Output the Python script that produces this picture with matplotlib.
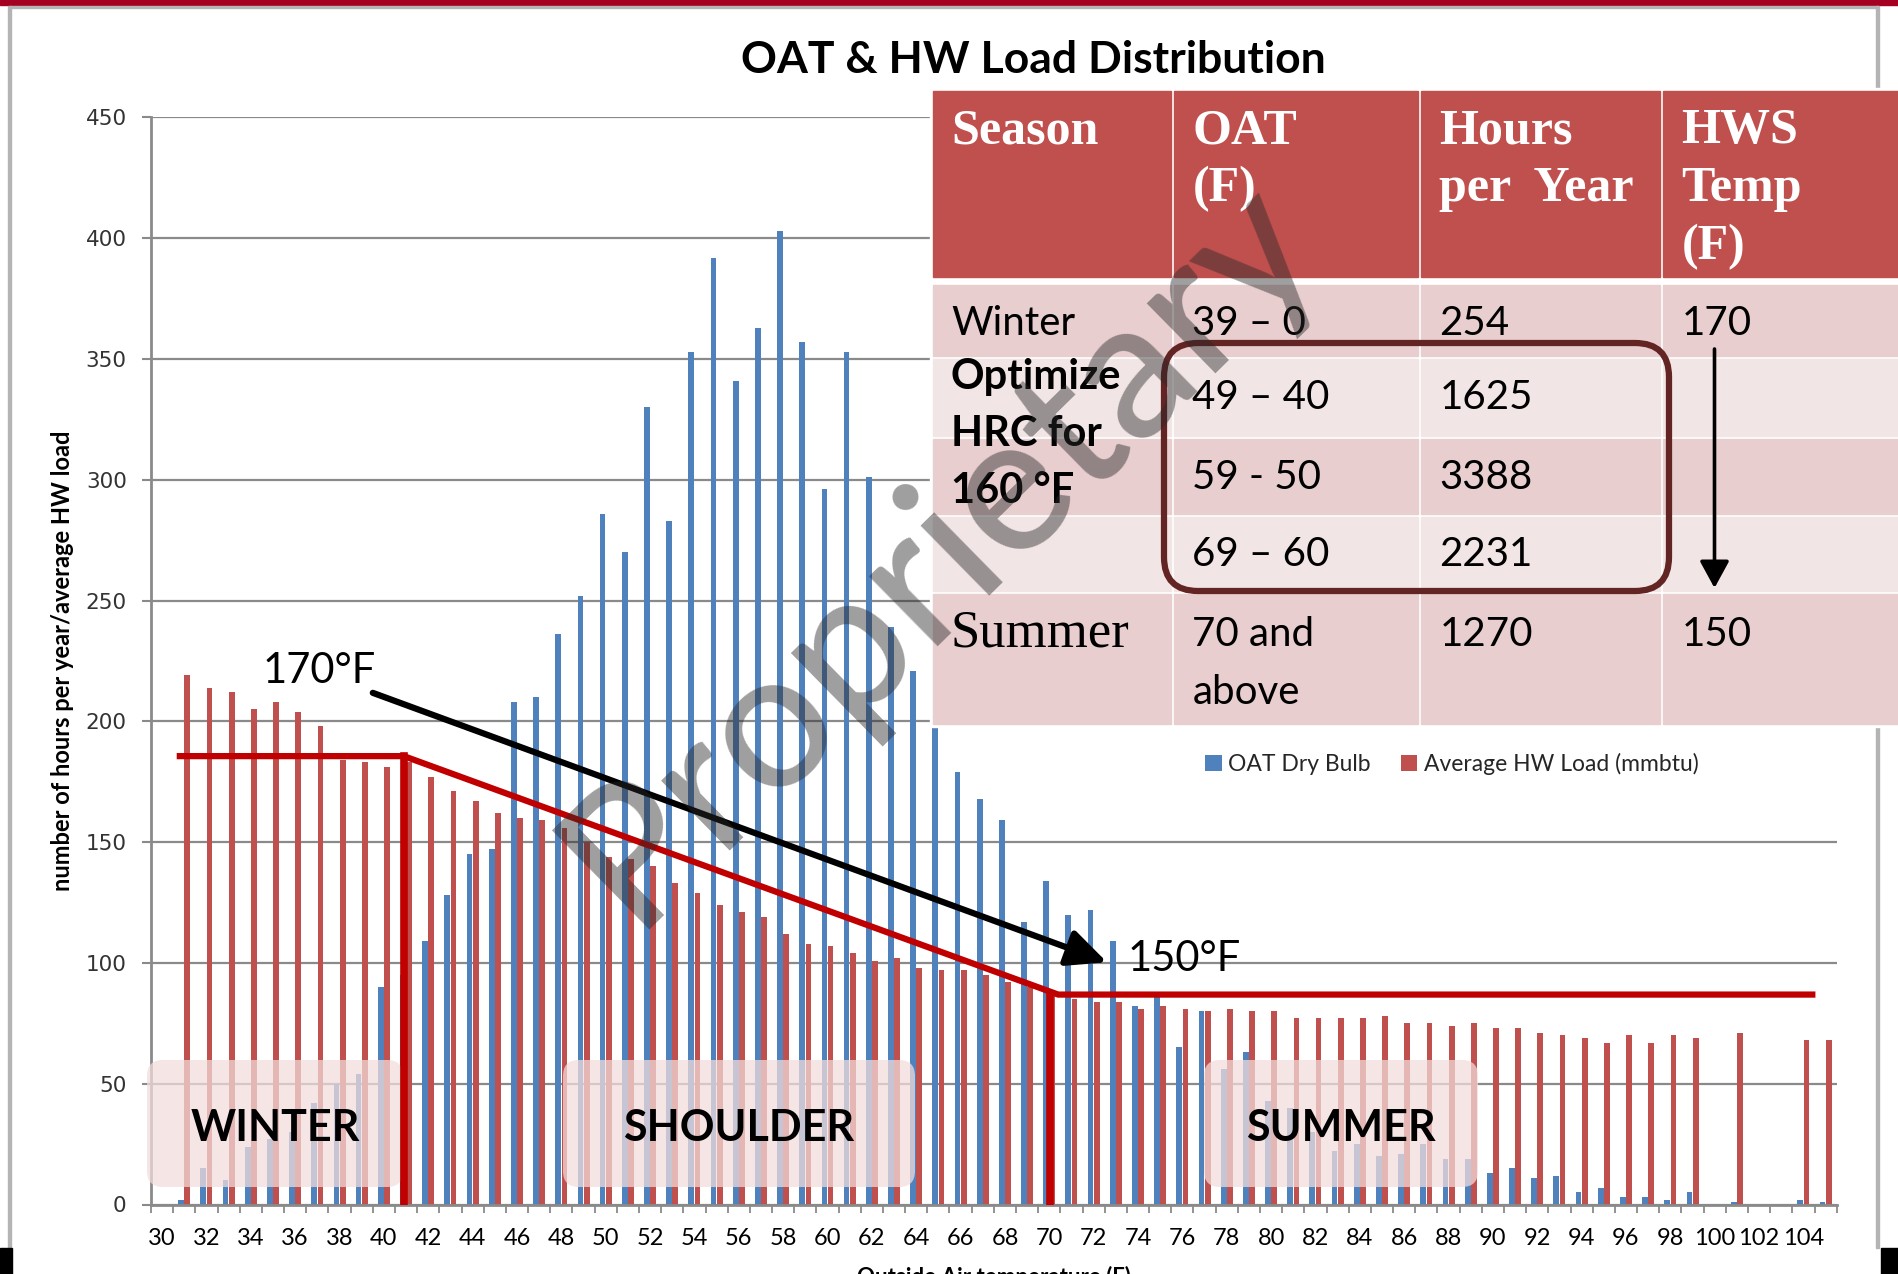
import matplotlib.pyplot as plt
import matplotlib.transforms as mtransforms
from matplotlib.patches import FancyBboxPatch, Rectangle

W, H = 1898, 1274

# outside air temperature bins (F)
temps = list(range(30, 106))
# hours per year in each bin
oat_hours = [0, 2, 15, 10, 24, 27, 30, 42, 50, 54,
             90, 95, 109, 128, 145, 147, 208, 210, 236, 252,
             286, 270, 330, 283, 353, 392, 341, 363, 403, 357,
             296, 353, 301, 239, 221, 198, 179, 168, 159, 117,
             134, 120, 122, 109, 82, 88, 65, 80, 56, 63,
             43, 40, 30, 22, 25, 20, 21, 25, 19, 19,
             13, 15, 11, 12, 5, 7, 3, 3, 2, 5,
             0, 1, 0, 0, 2, 1]
# average hot water load (mmbtu)
hw_load = [0, 219, 214, 212, 205, 208, 204, 198, 184, 183,
           181, 183, 177, 171, 167, 162, 160, 159, 156, 150,
           144, 143, 140, 133, 129, 124, 121, 119, 112, 108,
           107, 104, 101, 102, 98, 97, 97, 95, 92, 90,
           87, 85, 84, 84, 81, 82, 81, 80, 81, 80,
           80, 77, 77, 77, 77, 78, 75, 75, 74, 75,
           73, 73, 71, 70, 69, 67, 70, 67, 70, 69,
           0, 71, 0, 0, 68, 68]
xtick_vals = list(range(30, 105, 2))
xtick_labels = [str(t) for t in xtick_vals]

# HWS reset profile and arrow drawn over the chart (temp, y-axis value)
hws_x = [30.8, 40.9, 70.4, 104.4]
hws_y = [185.6, 185.6, 86.9, 86.9]
hws_steps = [40.9, 70.05]
arrow_from = (39.5, 211.8)
arrow_to = (72.6, 100.3)

seasons = ["WINTER", "SHOULDER", "SUMMER"]

table_header = ["Season", "OAT\n(F)", "Hours\nper  Year", "HWS\nTemp\n(F)"]
table_rows = [
    ["Winter", "39 – 0", "254", "170"],
    ["", "49 – 40", "1625", ""],
    ["", "59 - 50", "3388", ""],
    ["", "69 – 60", "2231", ""],
    ["Summer", "70 and\nabove", "1270", "150"],
]
optimize_note = ["Optimize", "HRC for", "160 °F"]

blue = "#4F81BD"
red = "#C0504D"
grid_gray = "#8a8a8a"

fig = plt.figure(figsize=(W / 100, H / 100), dpi=100)
ax = fig.add_axes([151 / W, 1 - 1204.5 / H, (1836.7 - 151) / W, (1204.5 - 117.4) / H])
# transform for slide pixel coordinates (origin top-left)
px = mtransforms.Affine2D().scale(1 / W, -1 / H).translate(0, 1) + fig.transFigure

b1 = ax.bar([t - 0.14 for t in temps], oat_hours, width=0.26, color=blue, zorder=2)
b2 = ax.bar([t + 0.14 for t in temps], hw_load, width=0.26, color=red, zorder=2)

ax.set_xlim(29.5, 105.5)
ax.set_ylim(0, 450)
ax.set_yticks(range(0, 451, 50))
ax.set_xticks(xtick_vals)
ax.set_xticklabels(xtick_labels, fontfamily="Lato", fontsize=17)
ax.set_xticks([t - 0.5 for t in range(30, 107)], minor=True)
ax.tick_params(axis="x", which="major", length=0, pad=17)
ax.tick_params(axis="x", which="minor", length=6, width=1.3, color=grid_gray)
ax.tick_params(axis="y", length=6.5, width=1.5, color=grid_gray, pad=11,
               labelsize=15.5, labelcolor="#333333")
ax.grid(axis="y", color=grid_gray, lw=1.6)
ax.set_axisbelow(True)
for s in ["top", "right"]:
    ax.spines[s].set_visible(False)
for s in ["left", "bottom"]:
    ax.spines[s].set_color(grid_gray)
    ax.spines[s].set_linewidth(2)


def rect(x0, y0, x1, y1, z, **kw):
    ax.add_patch(Rectangle((x0, y0), x1 - x0, y1 - y0, transform=px,
                           clip_on=False, zorder=z, **kw))


def ptext(xp, yp, s, **kw):
    kw.setdefault("clip_on", False)
    return ax.text(xp, yp, s, transform=px, **kw)


# title and axis labels
ptext(1033, 73, "OAT & HW Load Distribution", ha="center", va="baseline",
      fontfamily="Lato", fontweight="bold", fontsize=32)
ptext(63, 661, "number of hours per year/average HW load", rotation=90,
      ha="center", va="center", fontfamily="Lato", fontweight="bold", fontsize=17)
# the slide crops this label at the bottom edge
ptext(994, 1284, "Outside Air temperature (F)", ha="center", va="baseline",
      fontfamily="Lato", fontweight="bold", fontsize=16)

# season boxes
season_boxes = [(147, 403), (563, 915), (1204, 1478)]
for (x0, x1), name in zip(season_boxes, seasons):
    ax.add_patch(FancyBboxPatch((x0, 1060), x1 - x0, 127,
                                boxstyle="round,pad=0,rounding_size=16",
                                transform=px, clip_on=False, zorder=3,
                                facecolor="#F2DCDB", edgecolor="none", alpha=0.74))
    ptext((x0 + x1) / 2, 1141, name, ha="center", va="baseline", zorder=4,
          fontfamily="Lato", fontweight="bold", fontsize=31)

# HWS reset profile
ax.plot(hws_x, hws_y, color="#C00000", lw=4.5, zorder=5, clip_on=False,
        solid_joinstyle="miter")
ax.plot([hws_steps[0]] * 2, [0, hws_y[1]], color="#C00000", lw=5.5, zorder=5)
ax.plot([hws_steps[1]] * 2, [0, hws_y[2]], color="#C00000", lw=5.5, zorder=5)
ax.annotate("", xy=arrow_to, xytext=arrow_from, zorder=6,
            arrowprops=dict(arrowstyle="-|>,head_length=0.6,head_width=0.28",
                            lw=4.5, color="black", mutation_scale=40,
                            shrinkA=0, shrinkB=0))
ptext(263, 683, "170°F", ha="left", va="baseline", zorder=6,
      fontfamily="Lato", fontsize=30)
ptext(1128, 971, "150°F", ha="left", va="baseline", zorder=6,
      fontfamily="Lato", fontsize=30)

# legend
ax.legend([b1, b2], ["OAT Dry Bulb", "Average HW Load (mmbtu)"], loc="center",
          bbox_to_anchor=(1452, 764), bbox_transform=px, ncol=2, frameon=False,
          prop=dict(family="Lato", size=16.5), handlelength=0.7, handleheight=0.7,
          handletextpad=0.3, columnspacing=1.3, labelcolor="#262626")

# slide frame
rect(0, 0, W, 4.5, 9, color="#A50021")
rect(10, 5.5, 1878, 8, 9, color="#b4b4b4")
rect(8.5, 6, 11, 1248, 9, color="#b4b4b4")
rect(1876.5, 6, 1879, 1248, 9, color="#b4b4b4")
rect(0, 1248, 12, H, 9, color="black")
rect(1881, 1248, W, H, 9, color="black")

# table
col_x = [(933, 1171.5), (1174.5, 1418.5), (1421.5, 1660.5), (1663.5, 1910)]
head_y = (90.5, 276.5)
row_y = [(285, 356), (359, 436), (439, 513.5), (516.5, 590.5), (593.5, 724)]
band = ["#E8CECE", "#F2E5E5", "#E8CECE", "#F2E5E5", "#E8CECE"]
rect(930, 88, W + 10, 727, 10, color="white")
for (x0, x1), label in zip(col_x, table_header):
    rect(x0, head_y[0], x1, head_y[1], 11, color=red)
    for i, line in enumerate(label.split("\n")):
        ptext(x0 + 18, 143 + 58 * i, line, ha="left", va="baseline", zorder=12,
              color="white", fontfamily="Liberation Serif", fontweight="bold",
              fontsize=36)
for r, ((y0, y1), row) in enumerate(zip(row_y, table_rows)):
    for c, ((x0, x1), val) in enumerate(zip(col_x, row)):
        rect(x0, y0, x1, y1, 11, color=band[r])
        if not val:
            continue
        base = y0 + 50 if r < 4 else y0 + 53
        if val == "Summer":
            ptext(x0 + 18, base, val, ha="left", va="baseline", zorder=12,
                  fontfamily="Liberation Serif", fontsize=38)
            continue
        for i, line in enumerate(val.split("\n")):
            ptext(x0 + 18, base + 57 * i, line, ha="left", va="baseline", zorder=12,
                  fontfamily="Lato", fontsize=29)
for i, line in enumerate(optimize_note):
    ptext(951, 389 + 57 * i, line, ha="left", va="baseline", zorder=12,
          fontfamily="Lato", fontweight="bold", fontsize=30)

ax.add_patch(FancyBboxPatch((1164, 343), 505, 248,
                            boxstyle="round,pad=0,rounding_size=34", transform=px,
                            clip_on=False, zorder=13, facecolor="none",
                            edgecolor="#632523", lw=4.5))
ax.annotate("", xy=(1714.5, 588), xytext=(1714.5, 349), xycoords=px, textcoords=px,
            zorder=13, annotation_clip=False,
            arrowprops=dict(arrowstyle="-|>,head_length=0.55,head_width=0.3",
                            lw=2.6, color="black", mutation_scale=30,
                            shrinkA=0, shrinkB=0))

# watermark
ptext(940, 550, "Proprietary", rotation=44.5, ha="center", va="center",
      rotation_mode="anchor", zorder=20, color="#292929", alpha=0.45,
      fontfamily="Lato", fontweight="medium", fontsize=140)

fig.savefig("out.png", dpi=100)
